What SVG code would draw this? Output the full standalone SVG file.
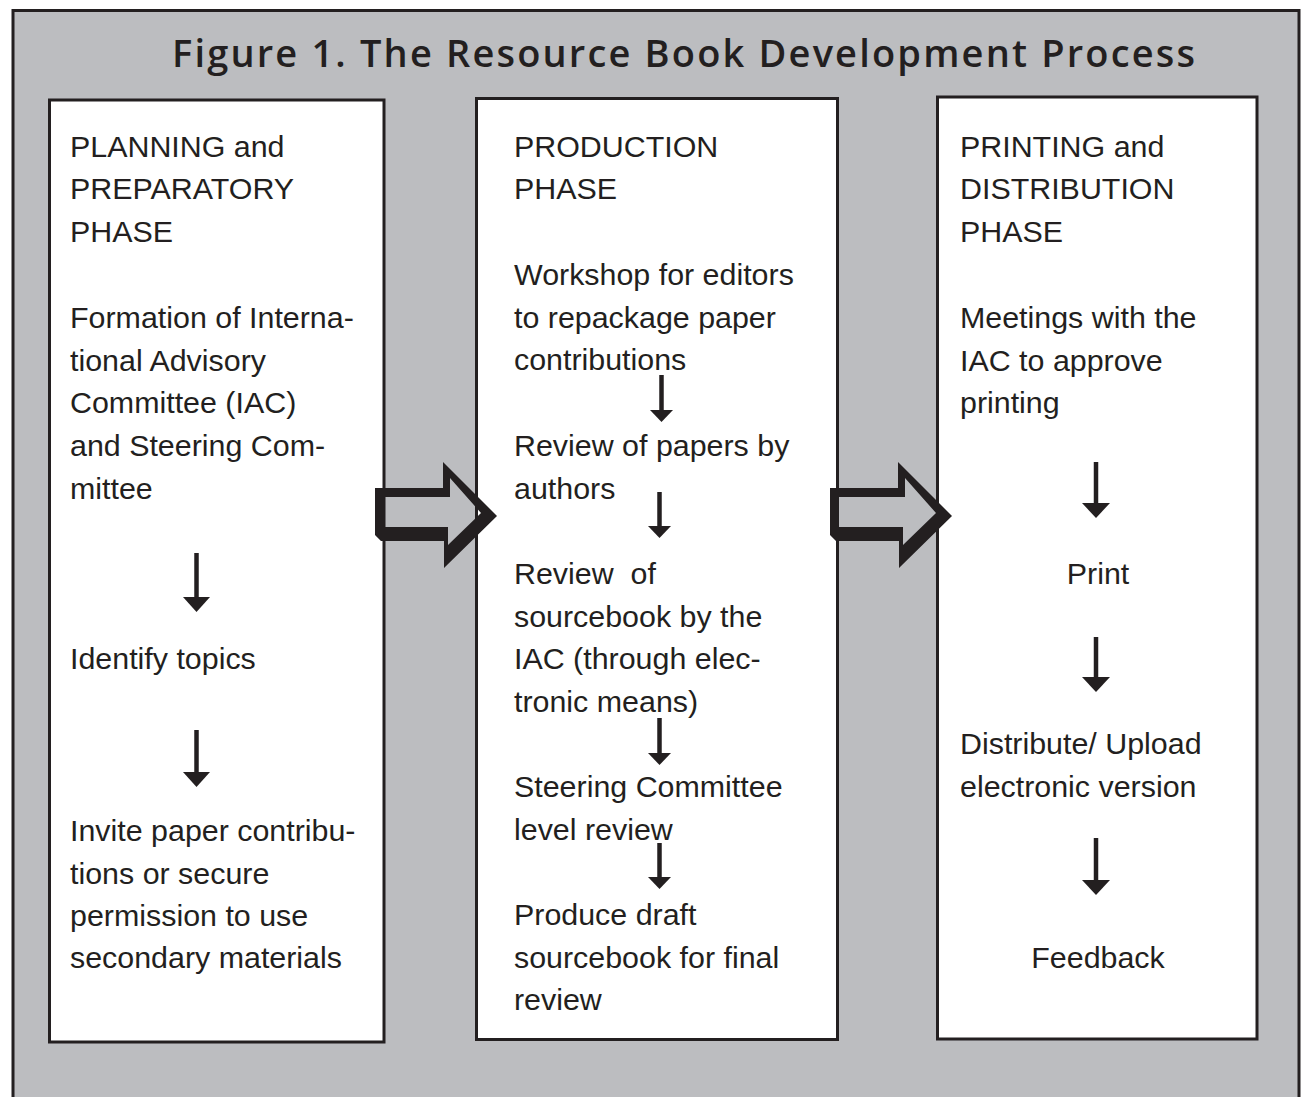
<svg xmlns="http://www.w3.org/2000/svg" width="1301" height="1097" viewBox="0 0 1301 1097">
<style>
.bg{fill:#bcbdc0;stroke:#231f20;stroke-width:3}
.panel{fill:#ffffff;stroke:#231f20;stroke-width:3}
.t{font-family:"Liberation Sans",Arial,sans-serif;font-size:30.4px;fill:#231f20}
.title{font-family:"Open Sans","Liberation Sans",sans-serif;font-weight:600;font-size:38px;fill:#231f20}
.dn{stroke:#231f20;stroke-width:4.5;fill:none}
.big{fill:#231f20;fill-rule:evenodd}
.hd{fill:#231f20}
</style>
<defs>
<path id="bigArrow" d="M375,488 L443,488 L443,462 L497,516 L444,568 L444,541 L381,541 L375,535 Z M383,497 L450,497 L450,478 L481,513 L448,545 L448,527 L383,527 Z"/>
</defs>
<rect class="bg" x="13" y="10.5" width="1286" height="1100"/>
<text class="title" x="172" y="67" textLength="1023" lengthAdjust="spacing">Figure 1. The Resource Book Development Process</text>

<g id="planning">
<rect class="panel" x="49.5" y="100" width="334.5" height="942"/>
<text class="t" x="70" y="157">PLANNING and</text>
<text class="t" x="70" y="199">PREPARATORY</text>
<text class="t" x="70" y="242">PHASE</text>
<text class="t" x="70" y="328">Formation of Interna-</text>
<text class="t" x="70" y="371">tional Advisory</text>
<text class="t" x="70" y="413">Committee (IAC)</text>
<text class="t" x="70" y="456">and Steering Com-</text>
<text class="t" x="70" y="499">mittee</text>
<text class="t" x="70" y="669">Identify topics</text>
<text class="t" x="70" y="841">Invite paper contribu-</text>
<text class="t" x="70" y="884">tions or secure</text>
<text class="t" x="70" y="926">permission to use</text>
<text class="t" x="70" y="968">secondary materials</text>
</g>

<g id="production">
<rect class="panel" x="476.5" y="98.5" width="361" height="941"/>
<text class="t" x="514" y="157">PRODUCTION</text>
<text class="t" x="514" y="199">PHASE</text>
<text class="t" x="514" y="285">Workshop for editors</text>
<text class="t" x="514" y="328">to repackage paper</text>
<text class="t" x="514" y="370">contributions</text>
<text class="t" x="514" y="456">Review of papers by</text>
<text class="t" x="514" y="499">authors</text>
<text class="t" x="514" y="584" xml:space="preserve">Review  of</text>
<text class="t" x="514" y="627">sourcebook by the</text>
<text class="t" x="514" y="669">IAC (through elec-</text>
<text class="t" x="514" y="712">tronic means)</text>
<text class="t" x="514" y="797">Steering Committee</text>
<text class="t" x="514" y="840">level review</text>
<text class="t" x="514" y="925">Produce draft</text>
<text class="t" x="514" y="968">sourcebook for final</text>
<text class="t" x="514" y="1010">review</text>
</g>

<g id="printing">
<rect class="panel" x="937.5" y="97" width="319.5" height="942"/>
<text class="t" x="960" y="157">PRINTING and</text>
<text class="t" x="960" y="199">DISTRIBUTION</text>
<text class="t" x="960" y="242">PHASE</text>
<text class="t" x="960" y="328">Meetings with the</text>
<text class="t" x="960" y="371">IAC to approve</text>
<text class="t" x="960" y="413">printing</text>
<text class="t" x="1098" y="584" text-anchor="middle">Print</text>
<text class="t" x="960" y="754">Distribute/ Upload</text>
<text class="t" x="960" y="797">electronic version</text>
<text class="t" x="1098" y="968" text-anchor="middle">Feedback</text>
</g>

<g id="connectors">
<use href="#bigArrow" class="big"/>
<use href="#bigArrow" class="big" transform="translate(455,0)"/>
<path class="dn" d="M196.5,553 V600"/>
<polygon class="hd" points="183,597 210,597 196.5,612"/>
<path class="dn" d="M196.5,730 V775"/>
<polygon class="hd" points="183,772 210,772 196.5,787"/>
<path class="dn" d="M661.5,375 V412"/>
<polygon class="hd" points="650,410 673,410 661.5,422"/>
<path class="dn" d="M659.5,492 V528"/>
<polygon class="hd" points="648,526 671,526 659.5,538"/>
<path class="dn" d="M659.5,718 V755"/>
<polygon class="hd" points="648,753 671,753 659.5,765"/>
<path class="dn" d="M659.5,843 V879"/>
<polygon class="hd" points="648,877 671,877 659.5,889"/>
<path class="dn" d="M1096,462 V506"/>
<polygon class="hd" points="1082,503 1110,503 1096,518"/>
<path class="dn" d="M1096,637 V680"/>
<polygon class="hd" points="1082,677 1110,677 1096,692"/>
<path class="dn" d="M1096,838 V883"/>
<polygon class="hd" points="1082,880 1110,880 1096,895"/>
</g>
</svg>
